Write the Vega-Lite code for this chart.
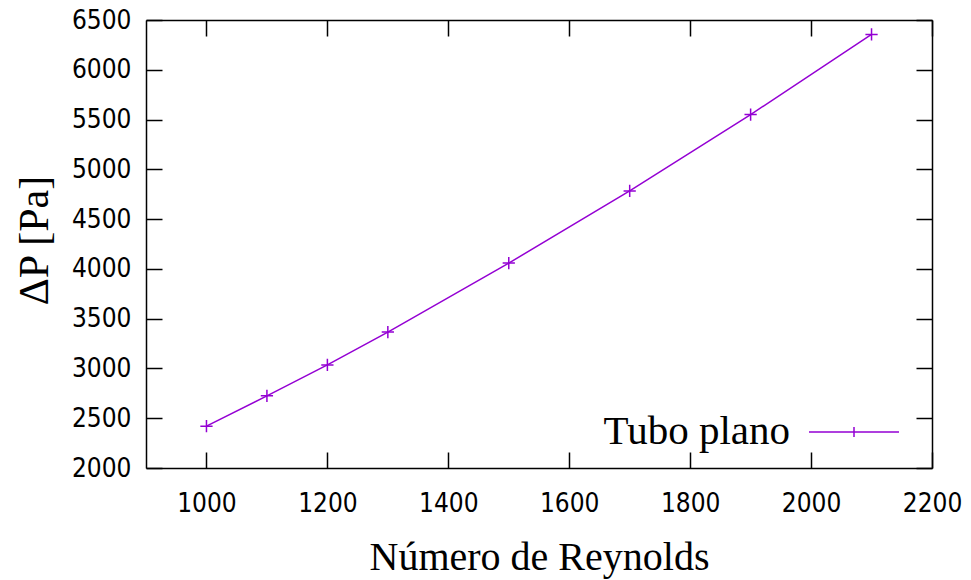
{
  "$schema": "https://vega.github.io/schema/vega-lite/v6.json",
  "autosize": {"type": "none"},
  "padding": {"left": 146, "top": 20, "right": 39, "bottom": 112},
  "width": 786,
  "height": 448,
  "background": "white",
  "config": {
    "view": {"stroke": null},
    "axis": {
      "domainColor": "#000",
      "domainWidth": 1.5,
      "tickColor": "#000",
      "tickWidth": 1.5,
      "tickSize": -16,
      "grid": false,
      "format": "d",
      "labelFont": "DejaVu Sans Condensed, DejaVu Sans",
      "labelFontSize": 26,
      "labelColor": "#000",
      "titleFont": "Liberation Serif",
      "titleFontSize": 40,
      "titleFontWeight": "normal",
      "titleColor": "#000"
    }
  },
  "data": {
    "values": [
      {"Re": 1000, "dP": 2420},
      {"Re": 1100, "dP": 2725},
      {"Re": 1200, "dP": 3035},
      {"Re": 1300, "dP": 3365},
      {"Re": 1500, "dP": 4058},
      {"Re": 1700, "dP": 4783},
      {"Re": 1900, "dP": 5550},
      {"Re": 2100, "dP": 6355}
    ]
  },
  "layer": [
    {
      "mark": {"type": "line", "strokeWidth": 1.5},
      "encoding": {
        "x": {
          "field": "Re", "type": "quantitative",
          "scale": {"domain": [900, 2200], "nice": false, "zero": false},
          "axis": {
            "orient": "bottom",
            "values": [1000, 1200, 1400, 1600, 1800, 2000, 2200],
            "labelPadding": 38,
            "labelFlush": false,
            "labelOverlap": false,
            "title": "Número de Reynolds",
            "titleBaseline": "alphabetic",
            "titleY": 101
          }
        },
        "y": {
          "field": "dP", "type": "quantitative",
          "scale": {"domain": [2000, 6500], "nice": false, "zero": false},
          "axis": {
            "orient": "left",
            "values": [2000, 2500, 3000, 3500, 4000, 4500, 5000, 5500, 6000, 6500],
            "labelPadding": 31,
            "labelFlush": false,
            "labelOverlap": false,
            "title": "ΔP [Pa]",
            "titleFontSize": 42,
            "titleBaseline": "alphabetic",
            "titleX": -99,
            "titleY": 220
          }
        },
        "color": {
          "datum": "Tubo plano",
          "type": "nominal",
          "scale": {"range": ["#9400d3"]},
          "legend": {
            "orient": "none",
            "legendX": 662,
            "legendY": 366,
            "title": null,
            "padding": 0,
            "symbolType": "M-1,0H1M0,-0.11V0.11",
            "symbolSize": 8100,
            "symbolStrokeWidth": 1.5,
            "symbolStrokeColor": "#9400d3",
            "symbolFillColor": "transparent",
            "labelFont": "Liberation Serif",
            "labelFontSize": 41,
            "labelColor": "#000",
            "labelAlign": "right",
            "labelOffset": -110,
            "labelLimit": 0
          }
        }
      }
    },
    {
      "mark": {"type": "point", "shape": "M-1,0H1M0,-1V1", "filled": false, "size": 150, "strokeWidth": 1.5, "color": "#9400d3", "opacity": 1},
      "encoding": {
        "x": {
          "field": "Re", "type": "quantitative",
          "scale": {"domain": [900, 2200], "nice": false, "zero": false},
          "axis": {"orient": "top", "values": [1000, 1200, 1400, 1600, 1800, 2000, 2200], "labels": false, "title": null}
        },
        "y": {
          "field": "dP", "type": "quantitative",
          "scale": {"domain": [2000, 6500], "nice": false, "zero": false},
          "axis": {"orient": "right", "values": [2000, 2500, 3000, 3500, 4000, 4500, 5000, 5500, 6000, 6500], "labels": false, "title": null}
        }
      }
    }
  ],
  "resolve": {"axis": {"x": "independent", "y": "independent"}}
}
